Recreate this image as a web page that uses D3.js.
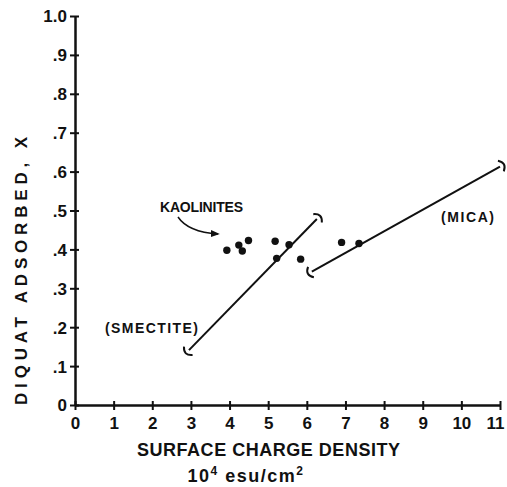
<!DOCTYPE html>
<html>
<head>
<meta charset="utf-8">
<script src="https://cdn.jsdelivr.net/npm/d3@7"></script>
<style>
  body { margin: 0; background: #fff; }
  svg { display: block; }
  text { font-family: "Liberation Sans", Arial, sans-serif; font-weight: bold; fill: #111; }
</style>
</head>
<body>
<svg width="507" height="487"></svg>
<script>
// ---- data ----
var xTicks = [0, 1, 2, 3, 4, 5, 6, 7, 8, 9, 10, 11];
var yTicks = [0, 0.1, 0.2, 0.3, 0.4, 0.5, 0.6, 0.7, 0.8, 0.9, 1.0];
var yTickLabels = ["0", ".1", ".2", ".3", ".4", ".5", ".6", ".7", ".8", ".9", "1.0"];

// kaolinite points (charge density, fraction adsorbed)
var kaoliniteX = [3.93, 4.24, 4.33, 4.49, 5.18, 5.54, 5.22, 5.84, 6.90, 7.35];
var kaoliniteY = [0.398, 0.411, 0.396, 0.423, 0.421, 0.412, 0.377, 0.375, 0.418, 0.415];

// range lines for the two mineral groups
var smectiteLine = [[2.95, 0.141], [6.26, 0.478]];
var micaLine = [[6.13, 0.343], [11.0, 0.613]];

var svg = d3.select("svg");

var x = d3.scaleLinear().domain([0, 11]).range([75, 500]);
var y = d3.scaleLinear().domain([0, 1]).range([405, 16]);

// -- axes --
var yAxis = d3.axisLeft(y)
  .tickValues(yTicks)
  .tickSizeInner(5)
  .tickSizeOuter(0)
  .tickPadding(5)
  .tickFormat(function(d, i) { return yTickLabels[i]; });

var xAxis = d3.axisBottom(x)
  .tickValues(xTicks)
  .tickSizeInner(5)
  .tickSizeOuter(0)
  .tickPadding(7)
  .tickFormat(function(d) { return d; });

var gy = svg.append("g")
  .attr("transform", "translate(" + x(0) + ",0)")
  .call(yAxis);

var gx = svg.append("g")
  .attr("transform", "translate(0," + y(0) + ")")
  .call(xAxis);

[gx, gy].forEach(function(g) {
  g.select(".domain").attr("stroke", "#111").attr("stroke-width", 2.5);
  g.selectAll(".tick line").attr("stroke", "#111").attr("stroke-width", 2);
  g.selectAll(".tick text").style("font-size", "17px").attr("fill", "#111");
});
// ticks cross the axis
gy.selectAll(".tick line").attr("x1", 4);
gx.selectAll(".tick line").attr("y1", -4);
gy.selectAll(".tick text").attr("x", -8).attr("dy", "0.35em");
// keep the last label inside the frame
gx.selectAll(".tick text")
  .filter(function(d) { return d === 11; })
  .attr("text-anchor", "end")
  .attr("x", 4);

// -- axis titles --
svg.append("text")
  .attr("x", 137)
  .attr("y", 456)
  .attr("textLength", 263)
  .attr("lengthAdjust", "spacing")
  .style("font-size", "18px")
  .text("SURFACE CHARGE DENSITY");

var unitText = svg.append("text")
  .attr("x", 246)
  .attr("y", 482)
  .attr("text-anchor", "middle")
  .style("letter-spacing", "1.5px")
  .style("font-size", "18px");
unitText.append("tspan").text("10");
unitText.append("tspan").attr("dy", -7).style("font-size", "12px").text("4");
unitText.append("tspan").attr("dy", 7).text(" esu/cm");
unitText.append("tspan").attr("dy", -7).style("font-size", "12px").text("2");

svg.append("text")
  .attr("transform", "translate(27,405) rotate(-90)")
  .attr("textLength", 268)
  .attr("lengthAdjust", "spacing")
  .style("font-size", "17px")
  .text("DIQUAT ADSORBED, X");

// -- range lines with bracket end caps --
function drawRange(pts) {
  var p0 = [x(pts[0][0]), y(pts[0][1])],
      p1 = [x(pts[1][0]), y(pts[1][1])];
  svg.append("line")
    .attr("x1", p0[0]).attr("y1", p0[1])
    .attr("x2", p1[0]).attr("y2", p1[1])
    .attr("stroke", "#111")
    .attr("stroke-width", 2);

  var len = Math.hypot(p1[0] - p0[0], p1[1] - p0[1]);
  var ux = (p1[0] - p0[0]) / len, uy = (p1[1] - p0[1]) / len;
  var nx = -uy, ny = ux;
  // bracket at each end, bulging outward
  [[p0, -1], [p1, 1]].forEach(function(e) {
    var c = [e[0][0] + ux * 4 * e[1], e[0][1] + uy * 4 * e[1]];
    var a = [c[0] + nx * 6 - ux * 3 * e[1], c[1] + ny * 6 - uy * 3 * e[1]];
    var b = [c[0] - nx * 6 - ux * 3 * e[1], c[1] - ny * 6 - uy * 3 * e[1]];
    var ctrl = [c[0] + ux * 4 * e[1], c[1] + uy * 4 * e[1]];
    svg.append("path")
      .attr("d", "M" + a + "Q" + ctrl + " " + b)
      .attr("fill", "none")
      .attr("stroke", "#111")
      .attr("stroke-width", 2);
  });
}
drawRange(smectiteLine);
drawRange(micaLine);

// -- kaolinite points --
svg.append("g")
  .selectAll("circle")
  .data(kaoliniteX)
  .enter().append("circle")
    .attr("cx", function(d) { return x(d); })
    .attr("cy", function(d, i) { return y(kaoliniteY[i]); })
    .attr("r", 3.7)
    .attr("fill", "#111");

// -- labels --
svg.append("text")
  .attr("x", 160).attr("y", 212)
  .attr("textLength", 83)
  .attr("lengthAdjust", "spacing")
  .style("font-size", "14px")
  .text("KAOLINITES");

svg.append("text")
  .attr("x", 105).attr("y", 333)
  .attr("textLength", 93)
  .attr("lengthAdjust", "spacing")
  .style("font-size", "14px")
  .text("(SMECTITE)");

svg.append("text")
  .attr("x", 441).attr("y", 222)
  .attr("textLength", 53)
  .attr("lengthAdjust", "spacing")
  .style("font-size", "14px")
  .text("(MICA)");

// arrow from the kaolinite label to the points
svg.append("defs").append("marker")
  .attr("id", "head")
  .attr("viewBox", "0 0 10 10")
  .attr("refX", 8).attr("refY", 5)
  .attr("markerWidth", 6).attr("markerHeight", 6)
  .attr("orient", "auto")
  .append("path")
    .attr("d", "M0,1L10,5L0,9Z")
    .attr("fill", "#111");

svg.append("path")
  .attr("d", "M178,217Q188,232 218,234")
  .attr("fill", "none")
  .attr("stroke", "#111")
  .attr("stroke-width", 1.5)
  .attr("marker-end", "url(#head)");
</script>
</body>
</html>
